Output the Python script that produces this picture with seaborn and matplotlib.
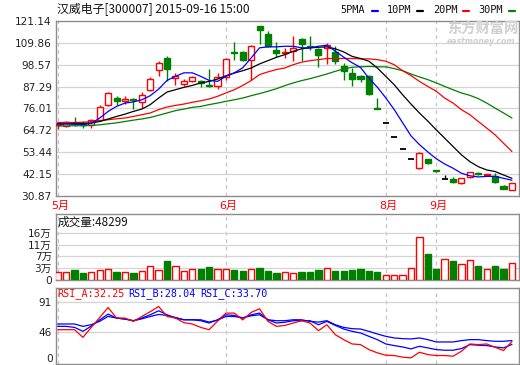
import numpy as np
import pandas as pd
import matplotlib
matplotlib.use("Agg")
import matplotlib.pyplot as plt
import matplotlib.transforms as mtrans
from matplotlib.patches import Rectangle
from matplotlib.lines import Line2D
import seaborn as sns

sns.set_style("white")
plt.rcParams['font.family'] = ['DejaVu Sans', 'Noto Sans CJK SC']

# ---------------- data ----------------
title = "汉威电子[300007] 2015-09-16 15:00"
opens = [67.3, 66.8, 68.2, 67.9, 67.6, 70.2, 77.9, 81.4, 79.7, 80.6,
         79.3, 85.4, 95.7, 102.1, 91.8, 88.6, 90.4, 90.4, 88.3, 87.6,
         92.0, 104.9, 105.3, 101.0, 118.8, 114.2, 106.1, 104.8, 105.5, 112.1,
         108.0, 106.8, 107.3, 105.0, 97.8, 94.4, 92.6, 92.6, 76.3, 68.3,
         61.5, 55.3, 49.8, 45.5, 49.7, 44.2, 39.4, 39.5, 37.4, 40.7,
         42.4, 41.6, 41.2, 36.0, 34.2]
highs = [68.6, 69.4, 71.6, 69.3, 70.6, 77.6, 84.5, 82.6, 82.6, 81.2,
         84.7, 92.0, 100.7, 103.0, 94.4, 91.0, 92.6, 90.6, 96.6, 94.4,
         101.8, 110.5, 105.6, 108.6, 118.8, 115.9, 110.2, 107.3, 113.3, 112.6,
         113.3, 107.2, 109.9, 108.1, 99.5, 97.0, 93.5, 93.5, 81.4, 68.3,
         61.5, 55.3, 49.8, 53.5, 50.0, 44.5, 41.7, 40.9, 40.2, 43.3,
         43.0, 42.4, 42.7, 36.3, 37.6]
lows = [65.2, 66.5, 66.8, 65.9, 65.9, 69.8, 77.5, 77.6, 78.3, 75.6,
        76.2, 84.8, 92.6, 90.0, 88.3, 87.5, 89.5, 87.1, 87.3, 86.2,
        90.5, 100.8, 100.3, 90.6, 109.4, 107.6, 102.4, 102.1, 100.4, 100.4,
        106.4, 97.4, 99.0, 99.0, 90.5, 87.4, 89.5, 83.1, 75.6, 68.3,
        61.5, 55.3, 49.8, 44.8, 47.5, 43.0, 39.4, 37.8, 36.9, 40.4,
        41.5, 41.2, 37.5, 34.5, 33.8]
closes = [68.2, 69.0, 67.9, 67.5, 70.2, 76.8, 84.0, 79.7, 80.7, 80.2,
          83.1, 91.3, 99.5, 96.4, 93.0, 90.4, 92.1, 89.4, 87.4, 92.3,
          101.5, 104.5, 101.2, 108.2, 116.3, 108.1, 104.5, 105.2, 107.3, 109.5,
          107.6, 103.5, 108.6, 100.4, 95.2, 91.3, 91.3, 83.6, 75.9, 68.3,
          61.5, 55.3, 49.8, 52.8, 47.8, 43.8, 39.4, 38.0, 40.0, 43.1,
          42.2, 42.2, 38.3, 34.5, 37.4]
volumes = [2.7, 2.7, 3.3, 2.4, 2.6, 3.3, 3.5, 2.7, 2.6, 2.4,
           3.0, 4.6, 3.3, 6.3, 4.6, 3.0, 3.5, 3.5, 4.2, 3.5,
           3.5, 3.3, 3.0, 3.5, 3.85, 3.0, 2.4, 2.6, 2.2, 2.7,
           2.7, 3.3, 3.85, 3.0, 3.0, 3.3, 3.5, 3.0, 2.7, 1.5,
           1.5, 1.5, 3.85, 14.1, 8.7, 3.6, 6.8, 6.3, 5.3, 6.6,
           4.6, 3.5, 4.6, 3.6, 5.5]
ma5 = [68.0, 68.0, 68.0, 67.8, 68.3, 71.1, 74.5, 77.1, 78.8, 79.4,
       80.5, 82.6, 86.0, 90.5, 92.6, 94.4, 94.4, 92.6, 90.5, 90.0,
       92.6, 94.4, 97.0, 102.1, 107.3, 107.8, 107.8, 108.1, 108.1, 107.3,
       107.3, 108.1, 108.6, 105.6, 102.5, 99.6, 97.2, 91.6, 87.0, 81.5,
       75.5, 68.7, 61.9, 57.4, 53.6, 50.1, 47.4, 45.2, 42.6, 41.3,
       40.7, 41.0, 41.0, 40.0, 39.0]
ma10 = [68.2, 68.2, 68.3, 68.3, 68.5, 69.3, 70.6, 71.9, 73.1, 74.5,
        75.7, 78.0, 81.4, 84.5, 85.7, 86.9, 87.9, 89.2, 90.0, 91.2,
        92.9, 94.3, 95.5, 96.9, 99.0, 100.7, 102.4, 103.8, 105.5, 106.8,
        107.3, 107.6, 107.8, 106.8, 105.2, 102.9, 101.8, 100.4, 96.9, 92.6,
        88.3, 83.1, 78.3, 73.7, 69.5, 65.0, 60.7, 56.4, 52.1, 48.6,
        46.0, 44.3, 43.5, 41.7, 40.0]
ma20 = [68.8, 68.8, 68.8, 68.9, 69.2, 69.7, 70.2, 70.7, 71.1, 71.9,
        72.8, 73.7, 75.4, 76.8, 77.6, 78.3, 79.2, 80.0, 80.9, 82.3,
        84.0, 85.7, 87.9, 90.4, 93.5, 94.9, 96.1, 96.9, 98.6, 99.9,
        100.7, 101.2, 101.8, 101.8, 101.8, 101.8, 101.6, 101.6, 101.2, 100.4,
        98.6, 95.5, 93.0, 90.0, 87.4, 84.9, 81.4, 78.8, 75.4, 72.8,
        69.3, 65.9, 62.4, 58.1, 53.8]
ma30 = [67.0, 67.0, 67.1, 67.1, 67.3, 67.6, 68.1, 68.6, 69.3, 70.0,
        70.6, 71.4, 72.5, 73.7, 74.9, 75.7, 76.6, 77.1, 78.0, 78.8,
        79.7, 80.5, 81.4, 82.6, 83.7, 84.9, 86.2, 87.8, 89.2, 90.4,
        91.4, 92.6, 93.8, 95.2, 96.4, 97.3, 97.5, 97.7, 97.5, 97.5,
        96.6, 95.5, 93.8, 92.3, 90.9, 89.2, 87.4, 85.7, 84.0, 82.8,
        81.1, 78.8, 76.2, 73.7, 71.1]
rsi_a = [49.6, 49.6, 49.6, 38.4, 53.0, 67.6, 82.2, 66.7, 66.7, 61.8,
         69.0, 76.0, 83.7, 69.1, 66.7, 60.0, 58.0, 53.0, 49.6, 62.0,
         74.0, 74.0, 64.0, 75.0, 80.3, 61.8, 54.5, 55.9, 59.4, 62.8,
         59.4, 48.2, 56.9, 42.3, 35.0, 28.7, 27.7, 20.4, 15.6, 12.2,
         11.7, 9.3, 8.3, 16.5, 13.1, 11.7, 11.7, 10.7, 18.0, 28.7,
         27.7, 28.7, 23.8, 19.0, 32.25]
rsi_b = [54.5, 54.5, 53.0, 47.2, 55.0, 64.0, 72.5, 66.7, 65.2, 62.8,
         66.7, 71.5, 77.4, 71.5, 66.7, 64.2, 64.2, 62.8, 59.4, 64.2,
         71.5, 70.5, 66.7, 71.5, 74.0, 64.2, 59.4, 60.5, 62.8, 62.8,
         62.8, 56.9, 61.8, 55.9, 50.6, 47.2, 44.8, 39.9, 35.0, 28.7,
         26.3, 24.3, 21.4, 25.3, 22.9, 20.4, 19.5, 19.5, 21.9, 27.7,
         26.8, 26.3, 24.3, 22.9, 28.04]
rsi_c = [58.0, 58.0, 58.0, 54.5, 57.0, 62.0, 69.1, 66.7, 65.2, 62.8,
         65.5, 69.0, 72.0, 70.5, 67.6, 64.2, 64.2, 64.2, 60.8, 63.5,
         69.1, 69.0, 67.0, 70.0, 71.5, 64.2, 62.8, 62.8, 64.2, 64.2,
         61.8, 60.8, 62.8, 56.9, 53.0, 51.1, 50.6, 47.2, 43.3, 39.9,
         37.5, 36.5, 36.0, 37.5, 35.0, 31.6, 31.6, 31.6, 33.6, 35.0,
         35.0, 33.6, 32.6, 32.6, 33.7]

price_ticks = [121.14, 109.86, 98.57, 87.29, 76.01, 64.72, 53.44, 42.15, 30.87]
vol_ticks = [0, 3.9, 7.8, 11.7, 15.6]
vol_tick_labels = ["0", "3万", "7万", "11万", "16万"]
rsi_ticks = [0, 46, 91]
month_pos = [0, 20, 39, 45]
month_labels = ["5月", "6月", "8月", "9月"]
vol_label = "成交量:48299"
rsi_labels = ["RSI_A:32.25", "RSI_B:28.04", "RSI_C:33.70"]
legend_labels = ["5PMA", "10PM", "20PM", "30PM"]

RED, GREEN, BLUE, BLACK = '#ff0000', '#008000', '#0000ff', '#000000'
GRID = '#d4d4d4'
FRAME = '#8c8c8c'
W, H = 520, 365

n = len(closes)
df = pd.DataFrame({'idx': np.arange(n), 'ma5': ma5, 'ma10': ma10, 'ma20': ma20,
                   'ma30': ma30, 'rsi_a': rsi_a, 'rsi_b': rsi_b, 'rsi_c': rsi_c,
                   'vol': volumes})

fig = plt.figure(figsize=(5.2, 3.65), dpi=100)
fig.patch.set_facecolor('white')


def box(left, top, right, bottom):
    return [left / W, 1 - bottom / H, (right - left) / W, (bottom - top) / H]


ax1 = fig.add_axes(box(56, 21, 519, 196))
ax2 = fig.add_axes(box(56, 214, 519, 280))
ax3 = fig.add_axes(box(56, 288, 519, 363.5))

XL = (-0.2, 54.84)
for ax in (ax1, ax2, ax3):
    ax.set_xlim(*XL)
    ax.set_xticks([])
    ax.set_facecolor('white')
    for s in ax.spines.values():
        s.set_color(FRAME)
        s.set_linewidth(1)
    ax.tick_params(axis='y', length=0, pad=3, labelsize=7.6, labelcolor='#222222')
    for m in month_pos:
        ax.axvline(m, color='#c4c4c4', lw=0.9, ls=(0, (3, 3)), zorder=0)

# ---------------- price panel ----------------
ax1.set_ylim(price_ticks[-1], price_ticks[0])
ax1.set_yticks(price_ticks)
ax1.set_yticklabels([f"{t:.2f}" for t in price_ticks])
for t in price_ticks[1:-1]:
    ax1.axhline(t, color=GRID, lw=0.9, zorder=0)

fig.text(447 / W, 1 - 30 / H, "东方财富网", fontsize=10.3, color='#cfcfcf',
         fontweight='bold', family=['Noto Sans CJK SC'], va='center', ha='left', zorder=0)
fig.text(447 / W, 1 - 41.5 / H, "eastmoney.com", fontsize=5.6, color='#cfcfcf',
         fontweight='bold', style='italic', va='center', ha='left', zorder=0)

cw = 0.72
for i in range(n):
    o, h, l, c = opens[i], highs[i], lows[i], closes[i]
    col = RED if c > o else (GREEN if c < o else BLACK)
    if h > l:
        ax1.vlines(i, l, h, color=col, lw=1, zorder=3)
    if c == o:
        ax1.hlines(c, i - cw / 2, i + cw / 2, color=col, lw=1.3, zorder=4)
    else:
        bot = min(o, c)
        hgt = max(abs(c - o), 0.45)
        face = 'white' if c > o else col
        ax1.add_patch(Rectangle((i - cw / 2, bot), cw, hgt, facecolor=face,
                                edgecolor=col, lw=1, zorder=4))

for col_name, colr in (('ma30', GREEN), ('ma20', RED), ('ma10', BLACK), ('ma5', BLUE)):
    sns.lineplot(data=df, x='idx', y=col_name, ax=ax1, color=colr, lw=0.9,
                 legend=False, zorder=5)
ax1.set_xlabel('')
ax1.set_ylabel('')

tr1 = mtrans.blended_transform_factory(ax1.transData, ax1.transAxes)
for m, lab in zip(month_pos, month_labels):
    ax1.text(m + 0.3, -10 / 175, lab, transform=tr1, color=RED, fontsize=8,
             ha='center', va='center', clip_on=False)

# title & legend
fig.text(57 / W, 1 - 10 / H, title, fontsize=8.6, family=['Noto Sans CJK SC'],
         ha='left', va='center', color='#111111')
leg_x = [340, 387, 433, 478]
dash_x = [372, 417, 463, 509]
leg_cols = [BLUE, BLACK, RED, GREEN]
for lx, dx, lab, lc in zip(leg_x, dash_x, legend_labels, leg_cols):
    fig.text(lx / W, 1 - 10 / H, lab, fontsize=7.4, family=['DejaVu Sans Mono'],
             ha='left', va='center', color='#111111')
    fig.add_artist(Line2D([dx / W, (dx + 6) / W], [1 - 11 / H, 1 - 11 / H],
                          color=lc, lw=1.6))

# ---------------- volume panel ----------------
vtop = vol_ticks[-1] * 66 / 47.3
ax2.set_ylim(0, vtop)
ax2.set_yticks(vol_ticks)
ax2.set_yticklabels(vol_tick_labels)
for t in vol_ticks[1:]:
    ax2.axhline(t, color=GRID, lw=0.9, zorder=0)
vw = 0.75
for i in range(n):
    up = closes[i] >= opens[i]
    colr = RED if up else GREEN
    ax2.bar(i, volumes[i], width=vw, facecolor='white' if up else colr,
            edgecolor=colr, lw=1, zorder=3)
ax2.text(0.004, 1 - 8.5 / 66, vol_label, transform=ax2.transAxes, fontsize=8.4,
         family=['Noto Sans CJK SC'], ha='left', va='center', color='#111111')

# ---------------- RSI panel ----------------
rtop = 91 * 75.5 / 62.0
ax3.set_ylim(0, rtop)
ax3.set_yticks(rsi_ticks[1:])
ax3.set_yticklabels([str(t) for t in rsi_ticks[1:]])
# the bottom "0" label, nudged up so it stays inside the picture
ax3.text(-0.006, 0.0, str(rsi_ticks[0]), transform=ax3.transAxes, fontsize=7.6,
         color='#222222', ha='right', va='bottom')
for t in rsi_ticks[1:]:
    ax3.axhline(t, color=GRID, lw=0.9, zorder=0)
for col_name, colr in (('rsi_c', BLUE), ('rsi_b', BLUE), ('rsi_a', RED)):
    sns.lineplot(data=df, x='idx', y=col_name, ax=ax3, color=colr, lw=0.9,
                 legend=False, zorder=5)
ax3.set_xlabel('')
ax3.set_ylabel('')
for lx, lab, lc in zip([57, 128, 200], rsi_labels, [RED, BLUE, BLUE]):
    fig.text(lx / W, 1 - 293.5 / H, lab, fontsize=7.3, family=['DejaVu Sans Mono'],
             ha='left', va='center', color=lc)

fig.savefig('out.png', dpi=100, facecolor='white')
